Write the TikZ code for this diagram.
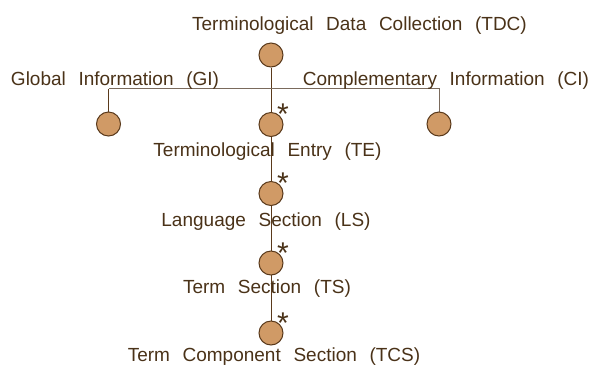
\documentclass[tikz,border=0pt]{standalone}
\usepackage{fontspec}
\setmainfont{Liberation Sans}[WordSpace = 2.4]
\usetikzlibrary{backgrounds}
\definecolor{linebrown}{HTML}{5A3A1C}
\definecolor{bargray}{HTML}{7A6A5C}
\definecolor{textbrown}{HTML}{4A3218}
\definecolor{dotfill}{HTML}{D09A66}
\newcommand\spinex{271}
\newcommand\bary{88.5}

\begin{document}
\begin{tikzpicture}[x = 1pt, y = -1pt, line width = 1pt,
	dot/.style = {circle, draw = linebrown, fill = dotfill, minimum size = 24pt, inner sep = 0pt},
	caption/.style = {text = textbrown, font = \fontsize{19}{21}\selectfont, inner sep = 0pt, anchor = base},
	starmark/.style = {text = textbrown, font = \fontsize{30}{30}\selectfont, inner sep = 0pt, anchor = base}]
	\useasboundingbox (0, 0) rectangle (603, 368);

	% Knoten
	\node [dot] (tdc) at (\spinex, 55) {};
	\node [dot] (gi) at (108.5, 124) {};
	\node [dot] (te) at (\spinex, 124.5) {};
	\node [dot] (ci) at (439, 124) {};
	\node [dot] (ls) at (\spinex, 193.5) {};
	\node [dot] (ts) at (\spinex, 263) {};
	\node [dot] (tcs) at (\spinex, 333) {};

	% Beschriftungen
	\node [caption] (tdc-text) at (359.5, 30) {Terminological Data Collection (TDC)};
	\node [caption] (gi-text) at (115, 85) {Global Information (GI)};
	\node [caption] (ci-text) at (446, 85) {Complementary Information (CI)};
	\node [caption] (te-text) at (267.5, 156.5) {Terminological Entry (TE)};
	\node [caption] (ls-text) at (266, 226.5) {Language Section (LS)};
	\node [caption] (ts-text) at (267, 293.5) {Term Section (TS)};
	\node [caption] (tcs-text) at (274, 361.5) {Term Component Section (TCS)};

	% Wiederholbar
	\foreach \n in {te, ls, ts, tcs} {
		\node [starmark] (\n-star) at ([xshift = 12pt] \n) {*};
	}

	% Verbindungen
	\coordinate (bar) at (\spinex, \bary);
	\begin{pgfonlayer}{background}
		\draw [linebrown] (tdc) -- (tcs);
		\draw [linebrown] (gi) -- (gi |- bar);
		\draw [bargray] (gi |- bar) -| (ci);
	\end{pgfonlayer}
\end{tikzpicture}
\end{document}
